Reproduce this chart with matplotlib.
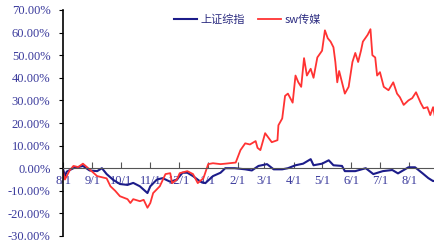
import matplotlib
matplotlib.use('Agg')
import matplotlib.pyplot as plt
import matplotlib.dates as mdates
from matplotlib.ticker import FuncFormatter, MultipleLocator
import pandas as pd

plt.rcParams['font.family'] = ['Noto Sans CJK SC', 'DejaVu Sans']

# sw传媒 (cumulative return, %)
media_dates = ['2012-08-01', '2012-08-03', '2012-08-08', '2012-08-12', '2012-08-17', '2012-08-22',
               '2012-08-29', '2012-09-06', '2012-09-16', '2012-09-20', '2012-09-25', '2012-09-30',
               '2012-10-08', '2012-10-11', '2012-10-14', '2012-10-21', '2012-10-25', '2012-10-29',
               '2012-11-01', '2012-11-04', '2012-11-11', '2012-11-17', '2012-11-22', '2012-11-24',
               '2012-11-29', '2012-12-02', '2012-12-10', '2012-12-16', '2012-12-21', '2012-12-27',
               '2013-01-01', '2013-01-06', '2013-01-14', '2013-01-19', '2013-01-30', '2013-02-04',
               '2013-02-09', '2013-02-14', '2013-02-20', '2013-02-22', '2013-02-25', '2013-03-02',
               '2013-03-09', '2013-03-15', '2013-03-16', '2013-03-20', '2013-03-23', '2013-03-26',
               '2013-03-31', '2013-04-03', '2013-04-06', '2013-04-09', '2013-04-12', '2013-04-15',
               '2013-04-19', '2013-04-22', '2013-04-26', '2013-05-01', '2013-05-04', '2013-05-07',
               '2013-05-10', '2013-05-13', '2013-05-15', '2013-05-17', '2013-05-19', '2013-05-22',
               '2013-05-25', '2013-05-29', '2013-06-02', '2013-06-05', '2013-06-08', '2013-06-11',
               '2013-06-13', '2013-06-18', '2013-06-21', '2013-06-23', '2013-06-26', '2013-06-28',
               '2013-07-01', '2013-07-05', '2013-07-10', '2013-07-15', '2013-07-19', '2013-07-22',
               '2013-07-26', '2013-07-31', '2013-08-04', '2013-08-08', '2013-08-13', '2013-08-16',
               '2013-08-20', '2013-08-23', '2013-08-26', '2013-08-28']
media_vals = [-1.3, -5, -1, 1, 0.5, 2,
              -0.5, -3.5, -4.5, -8, -10, -12.4,
              -13.7, -15.4, -13.7, -14.6, -14, -17.5,
              -15.4, -11, -8, -2.6, -2.2, -6.6,
              -5, -2.2, -1.3, -2.6, -6.6, -4.4,
              1.8, 2.2, 1.8, 2, 2.5, 8,
              11, 10.5, 12, 9, 8, 15.5,
              11.5, 12.4, 19, 22, 32, 33,
              29, 41, 38, 36, 48.7, 41,
              44, 40, 49, 52, 61, 57.5,
              56, 53.5, 47, 38, 43, 38,
              33, 36, 47, 51, 47, 52,
              56, 59, 61.5, 50, 49, 41,
              42.5, 36, 34.5, 38, 33, 31.4,
              28, 30, 31, 33.6, 28.8, 26.5,
              27, 23.5, 27, 22.6]

# 上证综指
sh_dates = ['2012-08-01', '2012-08-03', '2012-08-05', '2012-08-12', '2012-08-22', '2012-08-29',
            '2012-09-06', '2012-09-11', '2012-09-16', '2012-09-23', '2012-09-30', '2012-10-08',
            '2012-10-14', '2012-10-21', '2012-10-29', '2012-11-01', '2012-11-08', '2012-11-14',
            '2012-11-22', '2012-11-29', '2012-12-05', '2012-12-10', '2012-12-16', '2012-12-24',
            '2012-12-29', '2013-01-06', '2013-01-14', '2013-01-19', '2013-01-29', '2013-02-09',
            '2013-02-16', '2013-02-23', '2013-03-04', '2013-03-11', '2013-03-20', '2013-03-26',
            '2013-04-03', '2013-04-11', '2013-04-19', '2013-04-22', '2013-05-01', '2013-05-08',
            '2013-05-13', '2013-05-22', '2013-05-25', '2013-06-05', '2013-06-16', '2013-06-24',
            '2013-07-04', '2013-07-14', '2013-07-20', '2013-07-31', '2013-08-07', '2013-08-15',
            '2013-08-21', '2013-08-26', '2013-08-28']
sh_vals = [-0.3, -3.5, -1.5, 0, 1, -1,
           -1.3, 0, -2.6, -5.2, -7, -7.4,
           -6.5, -8, -11, -8, -5, -4.4,
           -6, -5, -2, -2, -3.5, -6,
           -6.6, -3.5, -2, 0, 0, -0.5,
           -1, 1, 1.8, -0.5, -0.5, 0,
           1.3, 2, 4, 1.3, 2, 3.5,
           1.3, 1, -1.3, -1.3, 0, -2.6,
           -1.3, -0.8, -2.3, 0.4, 0.4, -2.3,
           -4.4, -5.7, -5.5]

label_color = '#3a3a9c'

fig = plt.figure(figsize=(4.35, 2.42), dpi=100)
ax = fig.add_axes([63/435, 6/242, 1 - 63/435, 226/242])

ax.plot(pd.to_datetime(sh_dates), sh_vals, color='#1c1c8a', lw=1.5, label='上证综指')
ax.plot(pd.to_datetime(media_dates), media_vals, color='#ff3333', lw=1.3, label='sw传媒')

ax.set_ylim(-30, 70)
ax.set_xlim(pd.Timestamp('2012-08-01'), pd.Timestamp('2013-08-28'))
ax.yaxis.set_major_locator(MultipleLocator(10))
ax.yaxis.set_major_formatter(FuncFormatter(lambda v, p: '%.2f%%' % v))
ax.xaxis.set_major_locator(mdates.MonthLocator())
ax.xaxis.set_major_formatter(FuncFormatter(lambda v, p: '%d/%d' % (mdates.num2date(v).month, mdates.num2date(v).day)))

ax.spines['top'].set_visible(False)
ax.spines['right'].set_visible(False)
ax.spines['bottom'].set_position(('data', 0))
ax.spines['bottom'].set_color('#555555')
ax.spines['left'].set_color('black')
ax.spines['left'].set_linewidth(1.2)

ax.tick_params(axis='y', direction='out', length=3, pad=6, labelsize=9, labelcolor=label_color)
ax.tick_params(axis='x', direction='in', length=4, pad=5, labelsize=9, labelcolor=label_color, color='#555555')
for t in ax.get_xticklabels() + ax.get_yticklabels():
    t.set_fontfamily('Liberation Serif')

leg = ax.legend(loc='center left', bbox_to_anchor=(165/435, 1 - 20/242), bbox_transform=fig.transFigure,
                ncol=2, frameon=False, handlelength=2.05, handletextpad=0.35, columnspacing=1.2,
                borderpad=0.3, prop={'size': 8, 'weight': 'medium'})
for t in leg.get_texts():
    t.set_color('#2b2b80')

fig.savefig('out.png', dpi=100)
